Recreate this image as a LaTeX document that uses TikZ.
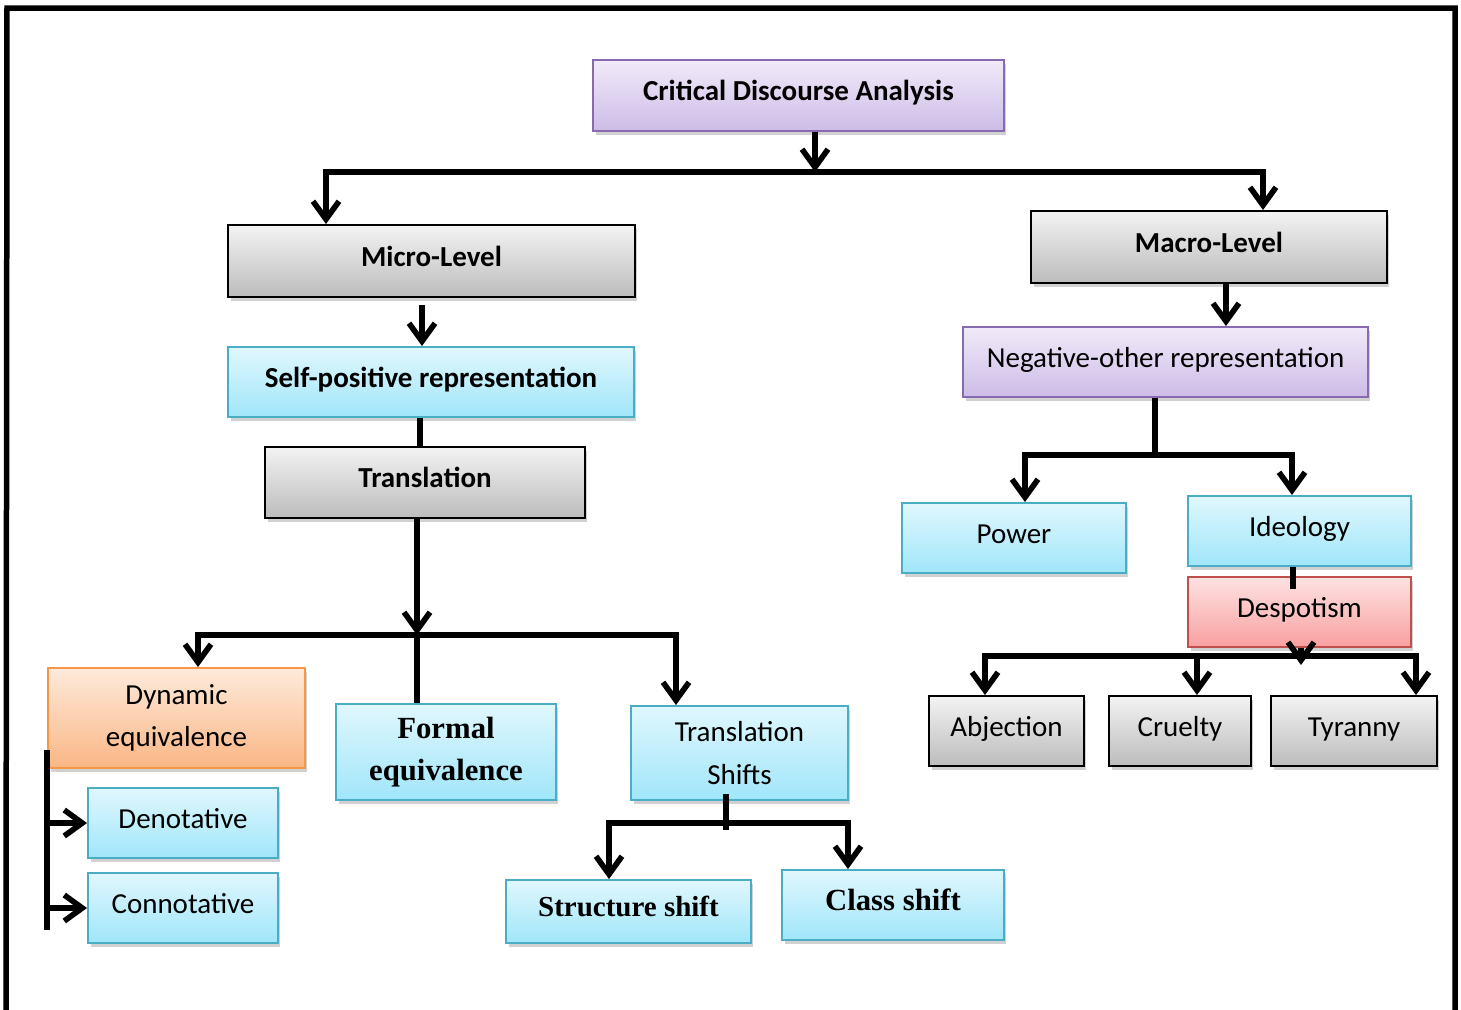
\documentclass[tikz,border=0pt]{standalone}
\usepackage{fontspec}
\setmainfont{Carlito}
\newfontfamily\timesfont{Liberation Serif}
\usepackage{xcolor}
\usetikzlibrary{arrows.meta,shadows}

\definecolor{purple_top}{RGB}{241,234,249}
\definecolor{purple_bottom}{RGB}{205,188,231}
\definecolor{purple_edge}{RGB}{136,106,176}
\definecolor{cyan_top}{RGB}{224,247,253}
\definecolor{cyan_bottom}{RGB}{160,230,250}
\definecolor{cyan_edge}{RGB}{75,172,198}
\definecolor{grey_top}{RGB}{243,243,243}
\definecolor{grey_bottom}{RGB}{188,188,188}
\definecolor{red_top}{RGB}{253,226,226}
\definecolor{red_bottom}{RGB}{249,160,160}
\definecolor{red_edge}{RGB}{192,80,77}
\definecolor{orange_top}{RGB}{253,234,219}
\definecolor{orange_bottom}{RGB}{250,182,132}
\definecolor{orange_edge}{RGB}{247,150,70}

\begin{document}
\begin{tikzpicture}[
    x=0.02cm, y=-0.02cm,
    box/.style = {
        rectangle,
        line width=1.1pt,
        align=center,
        inner sep=2pt,
        text height=0.42cm,
        text depth=0.22cm,
        font=\fontsize{16.5}{24}\selectfont,
        drop shadow={opacity=0.3, fill=black!60, shadow xshift=0.05cm, shadow yshift=-0.07cm}
    },
    two_lines/.style = {text height=, text depth=},
    bold_text/.style = {font=\fontsize{16.5}{24}\selectfont\bfseries},
    serif_text/.style = {font=\timesfont\fontsize{17.5}{23.5}\selectfont\bfseries},
    grey_block/.style = {box, draw=black, top color=grey_top, bottom color=grey_bottom},
    cyan_block/.style = {box, draw=cyan_edge, top color=cyan_top, bottom color=cyan_bottom},
    purple_block/.style = {box, draw=purple_edge, top color=purple_top, bottom color=purple_bottom},
    red_block/.style = {box, draw=red_edge, top color=red_top, bottom color=red_bottom},
    orange_block/.style = {box, draw=orange_edge, top color=orange_top, bottom color=orange_bottom},
    connector/.style = {line width=3.2pt, draw=black},
    arrow/.style = {connector, -{Straight Barb[length=0.36cm, width=0.52cm]}},
    frame/.style = {line width=0.11cm, draw=black, line join=miter}
]

    \useasboundingbox (0,0) rectangle (1461,1009);

    % Outer frame
    \draw [frame] (6,1012) -- (7,8) -- (1455,8) -- (1455,1012);

    % Node Definitions
    \node [purple_block, bold_text, minimum width=8.22cm, minimum height=1.42cm] (cda) at (798.5,95.5) {Critical Discourse Analysis};

    \node [grey_block, bold_text, minimum width=8.14cm, minimum height=1.44cm] (micro) at (431.5,261) {Micro-Level};
    \node [grey_block, bold_text, minimum width=7.12cm, minimum height=1.44cm] (macro) at (1209,247) {Macro-Level};

    \node [cyan_block, bold_text, minimum width=8.12cm, minimum height=1.4cm] (selfpos) at (431,382) {Self-positive representation};
    \node [grey_block, bold_text, minimum width=6.4cm, minimum height=1.42cm] (transl) at (425,482.5) {Translation};

    \node [purple_block, minimum width=8.1cm, minimum height=1.4cm] (negother) at (1165.5,362) {Negative-other representation};

    \node [cyan_block, minimum width=4.48cm, minimum height=1.4cm] (power) at (1014,538) {Power};
    \node [cyan_block, minimum width=4.46cm, minimum height=1.4cm] (ideology) at (1299.5,531) {Ideology};
    \node [red_block, minimum width=4.46cm, minimum height=1.4cm] (despot) at (1299.5,612) {Despotism};

    \node [grey_block, minimum width=3.1cm, minimum height=1.4cm] (abjection) at (1006.5,731) {Abjection};
    \node [grey_block, minimum width=2.84cm, minimum height=1.4cm] (cruelty) at (1180,731) {Cruelty};
    \node [grey_block, minimum width=3.32cm, minimum height=1.4cm] (tyranny) at (1354,731) {Tyranny};

    \node [orange_block, two_lines, minimum width=5.14cm, minimum height=2cm] (dynamic) at (176.5,718) {Dynamic\\equivalence};
    \node [cyan_block, two_lines, serif_text, minimum width=4.4cm, minimum height=1.92cm] (formal) at (446,752) {Formal\\equivalence};
    \node [cyan_block, two_lines, minimum width=4.34cm, minimum height=1.88cm] (tshifts) at (739.5,753) {Translation\\Shifts};

    \node [cyan_block, minimum width=3.8cm, minimum height=1.4cm] (denot) at (183,823) {Denotative};
    \node [cyan_block, minimum width=3.8cm, minimum height=1.4cm] (connot) at (183,908) {Connotative};

    \node [cyan_block, serif_text, font=\timesfont\fontsize{16.5}{24}\selectfont\bfseries, minimum width=4.9cm, minimum height=1.26cm] (structure) at (628.5,911.5) {Structure shift};
    \node [cyan_block, serif_text, minimum width=4.44cm, minimum height=1.4cm] (classs) at (893,905) {Class shift};

    % Branch points
    \coordinate (top_split) at (815,172);
    \coordinate (left_turn) at (326,172);
    \coordinate (right_turn) at (1263,172);
    \coordinate (mid_split) at (417,635);
    \coordinate (dyn_turn) at (198,635);
    \coordinate (shift_turn) at (676,635);
    \coordinate (spine_top) at (47,750);
    \coordinate (spine_bottom) at (47,930);
    \coordinate (shift_split) at (726,823);
    \coordinate (struct_turn) at (609,823);
    \coordinate (class_turn) at (848,823);
    \coordinate (neg_split) at (1155,455);
    \coordinate (power_turn) at (1025,455);
    \coordinate (ideo_turn) at (1292,455);
    \coordinate (desp_split) at (1301,656);
    \coordinate (abj_turn) at (985,656);
    \coordinate (cru_turn) at (1197,656);
    \coordinate (tyr_turn) at (1416,656);

    % Arrows connecting nodes
    \draw [arrow] (cda.south -| top_split) -- (top_split);
    \draw [arrow] (top_split) -| (micro.north -| left_turn);
    \draw [arrow] (top_split) -| (macro.north -| right_turn);

    \draw [arrow, shorten <=0.14cm] ([xshift=-0.19cm]micro.south) -- ([xshift=-0.19cm]micro.south |- selfpos.north);
    \draw [connector] ([xshift=-0.22cm]selfpos.south) -- ([xshift=-0.22cm]selfpos.south |- transl.north);

    \draw [arrow] (transl.south -| mid_split) -- (mid_split);
    \draw [connector] (mid_split) -- (formal.north -| mid_split);
    \draw [arrow] (mid_split) -| (dynamic.north -| dyn_turn);
    \draw [arrow] (mid_split) -| (tshifts.north -| shift_turn);

    \draw [connector] (spine_top) -- (spine_bottom);
    \draw [arrow] (spine_top |- denot.west) -- (denot.west);
    \draw [arrow] (spine_top |- connot.west) -- (connot.west);

    \draw [connector] ([yshift=0.14cm]tshifts.south -| shift_split) -- ([yshift=-0.14cm]shift_split);
    \draw [arrow] (shift_split) -| (structure.north -| struct_turn);
    \draw [arrow] (shift_split) -| (classs.north -| class_turn);

    \draw [arrow] ([xshift=0.34cm]macro.south) -- ([xshift=0.34cm]macro.south |- negother.north);
    \draw [connector] (negother.south -| neg_split) -- ([yshift=-0.06cm]neg_split);
    \draw [arrow] (neg_split) -| (power.north -| power_turn);
    \draw [arrow] (neg_split) -| (ideology.north -| ideo_turn);

    \draw [connector] ([xshift=-0.13cm]ideology.south) -- ([xshift=-0.13cm,yshift=-0.26cm]ideology.south |- despot.north);

    \draw [arrow] (despot.south -| desp_split) -- ([yshift=-0.18cm]desp_split);
    \draw [arrow] (desp_split) -| (abjection.north -| abj_turn);
    \draw [arrow] (desp_split) -| (cruelty.north -| cru_turn);
    \draw [arrow] (desp_split) -| (tyranny.north -| tyr_turn);

\end{tikzpicture}
\end{document}
